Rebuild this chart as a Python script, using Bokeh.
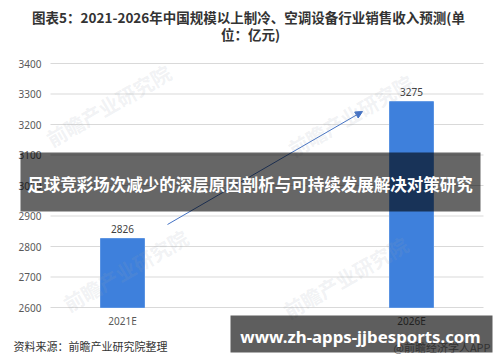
import math
from bokeh.plotting import figure
from bokeh.models import Range1d, Label, BoxAnnotation, Arrow, NormalHead
from bokeh.core.properties import value
from bokeh.embed import file_html
from bokeh.resources import INLINE

categories = ["2021E", "2026E"]
revenue = [2826, 3275]
y_ticks = [2600, 2700, 2800, 2900, 3000, 3100, 3200, 3300, 3400]
y_tick_labels = [str(t) for t in y_ticks]
title_line1 = "图表5：2021-2026年中国规模以上制冷、空调设备行业销售收入预测(单"
title_line2 = "位：亿元)"
source_text = "资料来源：前瞻产业研究院整理"
banner_text = "足球竞彩场次减少的深层原因剖析与可持续发展解决对策研究"
url_text = "www.zh-apps-jjbesports.com"
app_text = "@前瞻经济学人APP"
watermark = "前瞻产业研究院"

years = [int(c[:4]) for c in categories]

W, H = 500, 362
# pixel layout of the plotting area inside the canvas
GL, GR, GT, GB = 50, 483, 63, 307        # grid area
BAR0_PX, BAR1_PX = 122, 411              # centres of first/last bar
BAR_W_PX = 44

x_per_px = (years[-1] - years[0]) / (BAR1_PX - BAR0_PX)
y_per_px = (y_ticks[-1] - y_ticks[0]) / (GB - GT)

def xd(px):
    return years[0] + (px - BAR0_PX) * x_per_px

def yd(py):
    return y_ticks[0] + (GB - py) * y_per_px

p = figure(width=W, height=H,
           x_range=Range1d(xd(0), xd(W)), y_range=Range1d(yd(H), yd(0)),
           x_axis_location=None, y_axis_location=None,
           output_backend="svg", toolbar_location=None,
           min_border=0, min_border_left=0, min_border_right=0,
           min_border_top=0, min_border_bottom=0)
p.title.visible = False
p.grid.visible = False
p.outline_line_color = None
p.background_fill_color = "white"
p.border_fill_color = "white"

# horizontal grid lines at the tick values
p.segment(x0=xd(GL), x1=xd(GR), y0=y_ticks, y1=y_ticks, line_color="#d9d9d9", line_width=1)
# y tick labels
p.text(x=xd(41), y=y_ticks, text=y_tick_labels, text_align="right", text_baseline="middle",
       text_font_size="10px", text_color="#595959", text_font=value("Noto Sans"))

# bars
p.vbar(x=years, top=revenue, bottom=y_ticks[0], width=BAR_W_PX * x_per_px,
       fill_color="#3e80dc", line_color="#5a93e2")
p.text(x=years, y=revenue, text=[str(v) for v in revenue], y_offset=-6,
       text_align="center", text_baseline="bottom", text_font_size="10px",
       text_color="#404040", text_font=value("Noto Sans"))
# category labels
p.text(x=years, y=y_ticks[0], text=categories, y_offset=13,
       text_align="center", text_baseline="middle", text_font_size="10px",
       text_color="#595959", text_font=value("Noto Sans"))

p.add_layout(Arrow(x_start=xd(167), y_start=yd(224), x_end=xd(362), y_end=yd(111),
                   line_color="#4472c4", line_width=1,
                   end=NormalHead(size=7, fill_color="#4472c4", line_color="#4472c4")))

for (cx, cy) in [(108, 105), (350, 115), (125, 270), (345, 277)]:
    p.add_layout(Label(x=xd(cx), y=yd(cy), text=watermark, angle=math.radians(30),
                       text_align="center", text_baseline="middle",
                       text_font="Noto Sans CJK SC", text_font_style="bold",
                       text_font_size="20px", text_color="#9aa4b0", text_alpha=0.15))

p.add_layout(Label(x=xd(248), y=yd(16), text=title_line1, text_align="center",
                   text_baseline="middle", text_font="Noto Sans CJK SC",
                   text_font_style="bold", text_font_size="13.5px", text_color="#333333"))
p.add_layout(Label(x=xd(250), y=yd(33), text=title_line2, text_align="center",
                   text_baseline="middle", text_font="Noto Sans CJK SC",
                   text_font_style="bold", text_font_size="13.5px", text_color="#333333"))
p.add_layout(Label(x=xd(13), y=yd(345), text=source_text, text_align="left",
                   text_baseline="middle", text_font="Noto Sans CJK SC",
                   text_font_size="11px", text_color="#333333"))
p.add_layout(Label(x=xd(393), y=yd(346), text=app_text, text_align="left",
                   text_baseline="middle", text_font="Noto Sans CJK SC",
                   text_font_size="11px", text_color="#8a8a8a"))

p.add_layout(BoxAnnotation(left=xd(20), right=xd(480), top=yd(152), bottom=yd(211),
                           fill_color="black", fill_alpha=0.6, line_color=None))
p.add_layout(Label(x=xd(249.5), y=yd(183), text=banner_text, text_align="center",
                   text_baseline="middle", text_font="Noto Sans CJK SC",
                   text_font_style="bold", text_font_size="16.5px", text_color="white"))

p.add_layout(BoxAnnotation(left=xd(230), right=xd(492), top=yd(315), bottom=yd(352),
                           fill_color="black", fill_alpha=0.63, line_color=None))
p.add_layout(Label(x=xd(360), y=yd(336), text=url_text, text_align="center",
                   text_baseline="middle", text_font="Noto Sans",
                   text_font_style="bold", text_font_size="16.8px", text_color="white"))

open("out.html", "w").write(file_html(p, INLINE))
